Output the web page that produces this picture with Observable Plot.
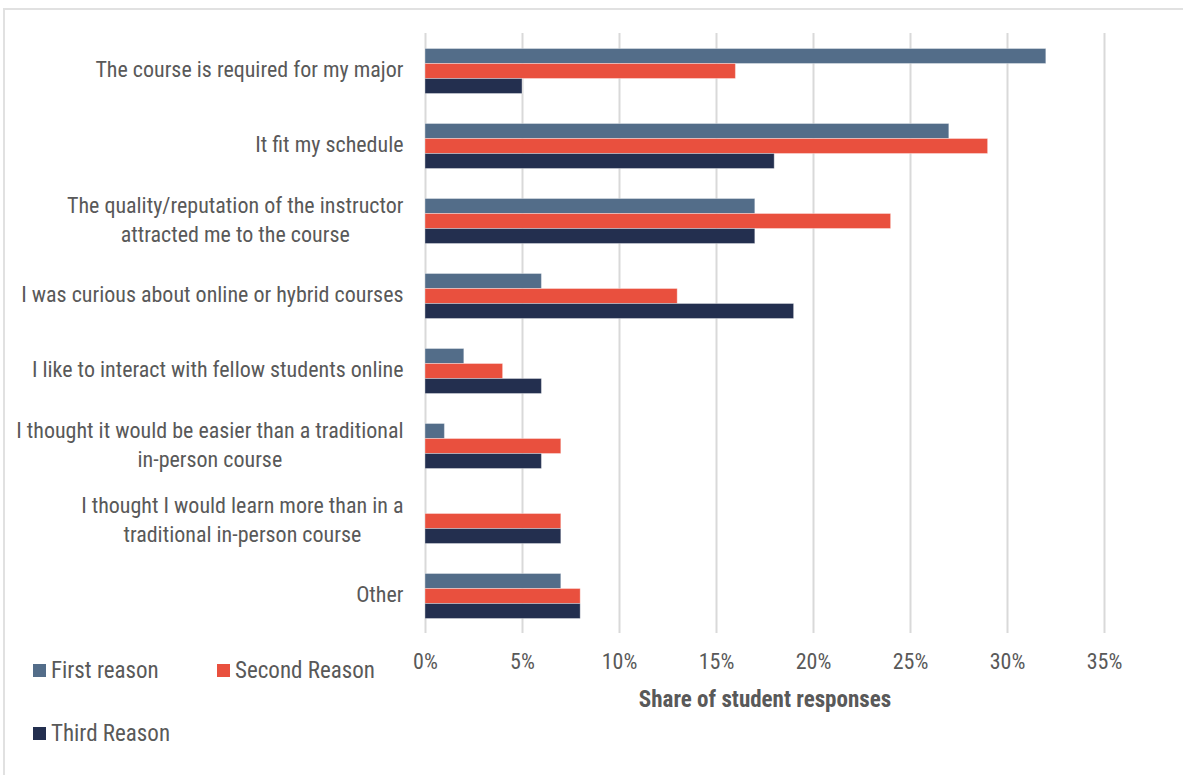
<!DOCTYPE html>
<html>
<head>
<meta charset="utf-8">
<script src="https://cdn.jsdelivr.net/npm/d3@7"></script>
<script src="https://cdn.jsdelivr.net/npm/@observablehq/plot@0.6"></script>
<style>
  html, body { margin: 0; padding: 0; background: #fff; }
  body { width: 1183px; height: 775px; position: relative; overflow: hidden;
         font-family: "Liberation Sans Narrow", "Arial Narrow", "Roboto Condensed", "Liberation Sans", sans-serif; }
  #frame { position: absolute; left: 3px; top: 8px; width: 1200px; height: 800px;
           border-left: 2px solid #e1e1e1; border-top: 2px solid #e1e1e1; box-sizing: border-box; }
  #chart { position: absolute; left: 0; top: 0; }
  .leg { position: absolute; display: flex; align-items: center; font-size: 23px; line-height: 27px; color: #595959; white-space: nowrap; }
  .leg .sw { width: 13px; height: 13px; margin-right: 5px; }
</style>
</head>
<body>
<div id="frame"></div>
<div id="chart"></div>
<div id="legend"></div>
<script>
const categories = [
  "The course is required for my major",
  "It fit my schedule",
  "The quality/reputation of the instructor\nattracted me to the course",
  "I was curious about online or hybrid courses",
  "I like to interact with fellow students online",
  "I thought it would be easier than a traditional\nin-person course",
  "I thought I would learn more than in a\ntraditional in-person course",
  "Other"
];
const series = ["First reason", "Second Reason", "Third Reason"];
const firstReason  = [32, 27, 17, 6, 2, 1, 0, 7];
const secondReason = [16, 29, 24, 13, 4, 7, 7, 8];
const thirdReason  = [5, 18, 17, 19, 6, 6, 7, 8];
const xTicks = [0, 5, 10, 15, 20, 25, 30, 35];
const colors = ["#536d89", "#e9503e", "#232f4f"];

const seriesValues = [firstReason, secondReason, thirdReason];
const data = [];
categories.forEach((c, i) => {
  series.forEach((s, j) => data.push({category: c, series: s, value: seriesValues[j][i]}));
});

const textColor = "#595959";
const chart = Plot.plot({
  width: 1183,
  height: 775,
  marginLeft: 425,
  marginRight: 79,
  marginTop: 32.5,
  marginBottom: 142.5,
  style: {fontFamily: '"Liberation Sans Narrow", "Arial Narrow", "Roboto Condensed", "Liberation Sans", sans-serif', fontSize: "22px", color: textColor, background: "transparent"},
  x: {domain: [0, 35]},
  fy: {domain: categories, paddingInner: 0.4, paddingOuter: 0.2},
  y: {domain: series, padding: 0, axis: null},
  color: {domain: series, range: colors},
  marks: [
    Plot.ruleX(xTicks, {stroke: "#d9d9d9", strokeWidth: 2, insetTop: -15, insetBottom: -15}),
    Plot.barX(data, {fy: "category", y: "series", x: "value", fill: "series", stroke: "#ffffff", strokeOpacity: 0.35, strokeWidth: 1}),
    Plot.axisFy({anchor: "left", tickSize: 0, tickPadding: 22, dy: -3, label: null, lineHeight: 1.32, fill: textColor, fontSize: 22}),
    Plot.axisX({ticks: xTicks, tickSize: 0, tickPadding: 35, tickFormat: d => d + "%", label: "Share of student responses", labelAnchor: "center", labelArrow: "none", labelOffset: 88, fill: textColor, fontSize: 22})
  ]
});
document.getElementById("chart").appendChild(chart);

// center multi-line category labels within their block (as in the reference)
chart.querySelectorAll("text").forEach(t => {
  const spans = t.querySelectorAll("tspan");
  if (spans.length > 1) {
    const w = Math.max(...Array.from(spans).map(s => s.getComputedTextLength()));
    t.setAttribute("text-anchor", "middle");
    spans.forEach(s => s.setAttribute("x", -w / 2));
  }
});
// bold axis label
chart.querySelectorAll("text").forEach(t => {
  if (t.textContent === "Share of student responses") { t.style.fontWeight = "bold"; t.style.fontSize = "23px"; }
});

const legendPos = [[33, 657], [217, 657], [33, 720]];
const legend = document.getElementById("legend");
series.forEach((s, i) => {
  const d = document.createElement("div");
  d.className = "leg";
  d.style.left = legendPos[i][0] + "px";
  d.style.top = legendPos[i][1] + "px";
  d.innerHTML = `<span class="sw" style="background:${colors[i]}"></span><span>${s}</span>`;
  legend.appendChild(d);
});
</script>
</body>
</html>
